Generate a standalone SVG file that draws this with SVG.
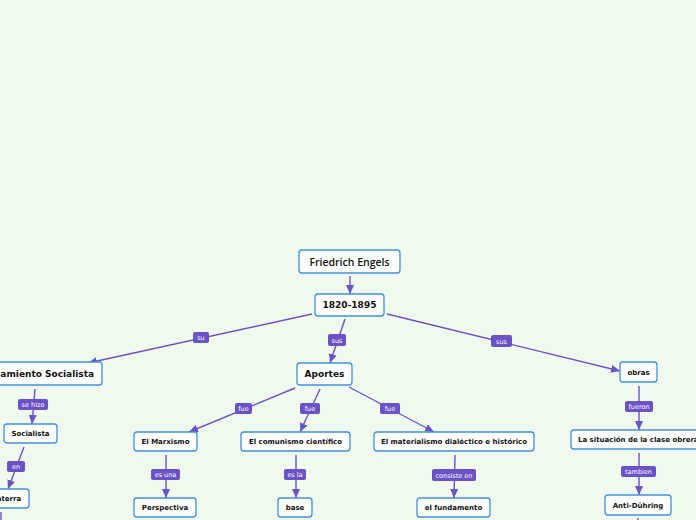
<svg xmlns="http://www.w3.org/2000/svg" width="696" height="520" viewBox="0 0 696 520">
<defs>
<marker id="arr" markerUnits="userSpaceOnUse" markerWidth="10" markerHeight="10" viewBox="0 0 10 10" refX="9" refY="5" orient="auto">
<path d="M0,1 L9,5 L0,9 Z" fill="#6b52c7"/>
</marker>
</defs>
<style>
.bg{fill:#f0f9ee}
.node rect{fill:#ffffff;stroke:#3f90e3;stroke-width:1.3}
.node text{font-family:"DejaVu Sans",Verdana,sans-serif;font-weight:bold;font-size:7px;fill:#111;text-anchor:middle}
.node text.big{font-size:9px}
.node text.top{font-family:"Open Sans","DejaVu Sans",sans-serif;font-weight:600;font-size:10.5px}
.node text.st{text-anchor:start}
.edge line{stroke:#6b52c7;stroke-width:1.4;fill:none}
.edge line.a{marker-end:url(#arr)}
.lbl rect{fill:#6b52c7}
.lbl text{font-family:"DejaVu Sans",Verdana,sans-serif;font-size:6.5px;fill:#ffffff;text-anchor:middle}
</style>
<rect class="bg" x="0" y="0" width="696" height="520"/>
<g id="connectors" class="edge">
<line class="a" x1="350" y1="276" x2="350" y2="294"/>
<line class="a" x1="312" y1="314" x2="88" y2="363"/>
<line class="a" x1="345" y1="319" x2="330" y2="363"/>
<line class="a" x1="387" y1="314" x2="620" y2="371"/>
<line class="a" x1="35" y1="389" x2="32" y2="424"/>
<line class="a" x1="24" y1="447" x2="8" y2="489"/>
<line x1="1" y1="512" x2="1" y2="520"/>
<line class="a" x1="295" y1="388" x2="189" y2="432"/>
<line class="a" x1="320" y1="389" x2="300" y2="432"/>
<line class="a" x1="349" y1="387" x2="434" y2="432"/>
<line class="a" x1="166" y1="455" x2="166" y2="498"/>
<line class="a" x1="296" y1="455" x2="296" y2="498"/>
<line class="a" x1="455" y1="455" x2="454" y2="498"/>
<line class="a" x1="639" y1="386" x2="639" y2="430"/>
<line class="a" x1="639" y1="453" x2="639" y2="495"/>
<line x1="638" y1="518" x2="638" y2="520"/>
</g>
<g id="labels">
<g class="lbl"><rect x="193" y="332" width="16" height="11" rx="2"/><text x="201" y="340">su</text></g>
<g class="lbl"><rect x="328" y="334" width="18" height="12" rx="2"/><text x="337" y="342.5">sus</text></g>
<g class="lbl"><rect x="491" y="335" width="21" height="12" rx="2"/><text x="501.5" y="343.5">sus</text></g>
<g class="lbl"><rect x="18" y="399" width="30" height="11" rx="2"/><text x="33" y="407">se hizo</text></g>
<g class="lbl"><rect x="7" y="461" width="18" height="11" rx="2"/><text x="16" y="469">en</text></g>
<g class="lbl"><rect x="235" y="403" width="17" height="11" rx="2"/><text x="243.5" y="411">fue</text></g>
<g class="lbl"><rect x="300" y="403" width="20" height="11" rx="2"/><text x="310" y="411">fue</text></g>
<g class="lbl"><rect x="380" y="403" width="20" height="11" rx="2"/><text x="390" y="411">fue</text></g>
<g class="lbl"><rect x="151" y="469" width="29" height="11" rx="2"/><text x="165.5" y="477">es una</text></g>
<g class="lbl"><rect x="284" y="469" width="22" height="11" rx="2"/><text x="295" y="477">es la</text></g>
<g class="lbl"><rect x="432" y="469" width="44" height="12" rx="2"/><text x="454" y="477.5">consiste en</text></g>
<g class="lbl"><rect x="625" y="401" width="28" height="11" rx="2"/><text x="639" y="409">fueron</text></g>
<g class="lbl"><rect x="621" y="466" width="35" height="11" rx="2"/><text x="638.5" y="474">tambien</text></g>
</g>
<g id="n-engels" class="node"><rect x="299" y="250" width="101" height="23" rx="3"/><text class="top" x="349.5" y="265.5">Friedrich Engels</text></g>
<g id="n-fechas" class="node"><rect x="315" y="294" width="69" height="22" rx="3"/><text class="big" x="349.5" y="308">1820-1895</text></g>
<g id="n-aportes" class="node"><rect x="297" y="363" width="55" height="22" rx="3"/><text class="big" x="324.5" y="377">Aportes</text></g>
<g id="n-pensamiento" class="node"><rect x="-32" y="362" width="134" height="23" rx="3"/><text class="big" x="35" y="376.5">Pensamiento Socialista</text></g>
<g id="n-socialista" class="node"><rect x="4" y="424" width="53" height="19" rx="3"/><text x="30.5" y="436">Socialista</text></g>
<g id="n-inglaterra" class="node"><rect x="-26" y="489" width="55" height="19" rx="3"/><text x="1.5" y="501">Inglaterra</text></g>
<g id="n-marxismo" class="node"><rect x="134" y="432" width="63" height="19" rx="3"/><text x="165.5" y="444">El Marxismo</text></g>
<g id="n-comunismo" class="node"><rect x="241" y="432" width="109" height="19" rx="3"/><text x="295.5" y="444">El comunismo científico</text></g>
<g id="n-materialismo" class="node"><rect x="374" y="432" width="160" height="19" rx="3"/><text x="454" y="444">El materialismo dialéctico e histórico</text></g>
<g id="n-perspectiva" class="node"><rect x="134" y="498" width="62" height="19" rx="3"/><text x="165" y="510">Perspectiva</text></g>
<g id="n-base" class="node"><rect x="278" y="498" width="34" height="19" rx="3"/><text x="295" y="510">base</text></g>
<g id="n-fundamento" class="node"><rect x="417" y="498" width="73" height="19" rx="3"/><text x="453.5" y="510">el fundamento</text></g>
<g id="n-obras" class="node"><rect x="620" y="362" width="37" height="20" rx="3"/><text x="638.5" y="375">obras</text></g>
<g id="n-situacion" class="node"><rect x="571" y="430" width="134" height="19" rx="3"/><text class="st" x="578" y="442">La situación de la clase obrera</text></g>
<g id="n-antiduhring" class="node"><rect x="605" y="495" width="66" height="20" rx="3"/><text x="638" y="508">Anti-Dühring</text></g>
</svg>
